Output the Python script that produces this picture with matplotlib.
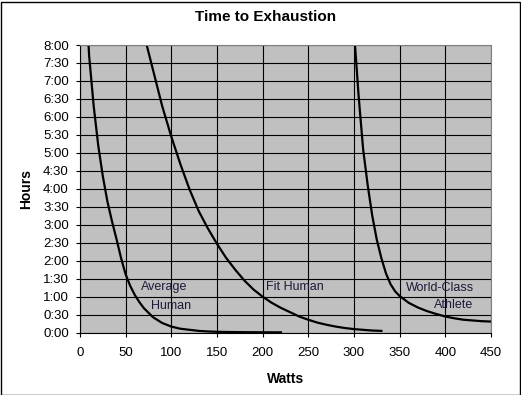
import matplotlib.pyplot as plt
import numpy as np
from matplotlib.patches import Rectangle
from matplotlib.ticker import FuncFormatter

plt.rcParams['font.family'] = ['Liberation Sans', 'DejaVu Sans']

# values (watts -> hours)
avg_watts = [5, 10, 15, 20, 25, 30, 35, 40, 45, 50, 55, 60, 65, 70, 80, 90, 100,
             110, 120, 130, 140, 150, 160, 170, 180, 190, 200, 210, 220]
avg_hours = [10.0, 7.7, 6.3, 5.2, 4.35, 3.65, 3.1, 2.6, 2.07, 1.62, 1.3, 1.05, 0.85,
             0.68, 0.43, 0.27, 0.17, 0.11, 0.08, 0.05, 0.035, 0.025, 0.02, 0.017,
             0.015, 0.013, 0.012, 0.011, 0.01]

fit_watts = [70, 80, 90, 100, 110, 120, 130, 140, 150, 160, 170, 180, 190, 200,
             210, 220, 230, 240, 250, 260, 270, 280, 290, 300, 310, 320, 330]
fit_hours = [8.3, 7.3, 6.3, 5.45, 4.68, 3.98, 3.38, 2.9, 2.47, 2.08, 1.75, 1.45, 1.2,
             1.0, 0.83, 0.69, 0.57, 0.45, 0.36, 0.28, 0.22, 0.17, 0.13, 0.10,
             0.08, 0.06, 0.05]

ath_watts = [300, 305, 310, 315, 320, 325, 330, 335, 340, 345, 350, 360, 370, 380,
             390, 400, 410, 420, 430, 440, 450]
ath_hours = [8.4, 6.6, 5.1, 4.1, 3.25, 2.58, 2.07, 1.65, 1.35, 1.15, 1.02, 0.83,
             0.70, 0.60, 0.52, 0.45, 0.40, 0.36, 0.34, 0.32, 0.31]

fig = plt.figure(figsize=(5.21, 3.95), dpi=100)
ax = fig.add_axes([80 / 521, 62.3 / 395, 411 / 521, 287.7 / 395])
ax.set_facecolor('#c0c0c0')

for w, h in [(avg_watts, avg_hours), (fit_watts, fit_hours), (ath_watts, ath_hours)]:
    ax.plot(w, h, color='black', lw=1.6)

ax.set_xlim(0, 450)
ax.set_ylim(0, 8)
ax.set_xticks(np.arange(0, 451, 50))
ax.set_yticks(np.arange(0, 8.01, 0.5))
ax.yaxis.set_major_formatter(FuncFormatter(lambda v, p: '%d:%02d' % (int(v), round((v % 1) * 60))))
ax.grid(True, color='black', lw=0.8)
ax.tick_params(direction='out', length=3, width=0.8, labelsize=9.5, colors='black')
ax.tick_params(axis='x', pad=7.5)
ax.tick_params(axis='y', pad=5)
for s in ['top', 'right']:
    ax.spines[s].set_color('#808080')
    ax.spines[s].set_linewidth(0.8)
for s in ['left', 'bottom']:
    ax.spines[s].set_linewidth(0.8)

lab = dict(fontsize=9, color='#201838', va='center')
ax.text(67, 1.28, 'Average', ha='left', **lab)
ax.text(78, 0.74, 'Human', ha='left', **lab)
ax.text(204, 1.28, 'Fit Human', ha='left', **lab)
ax.text(431, 1.23, 'World-Class', ha='right', **lab)
ax.text(431, 0.76, 'Athlete', ha='right', **lab)

ax.set_xlabel('Watts', fontsize=10, fontweight='bold', labelpad=9)
ax.set_ylabel('Hours', fontsize=10, fontweight='bold', labelpad=7)
fig.text(266 / 521, 1 - 17 / 395, 'Time to Exhaustion', ha='center', va='center',
         fontsize=11, fontweight='bold')

fig.patches.append(Rectangle((0.5 / 521, 0.5 / 395), 519 / 521, 393 / 395,
                             transform=fig.transFigure, fill=False,
                             edgecolor='black', lw=1))

fig.savefig('out.png', dpi=100)
